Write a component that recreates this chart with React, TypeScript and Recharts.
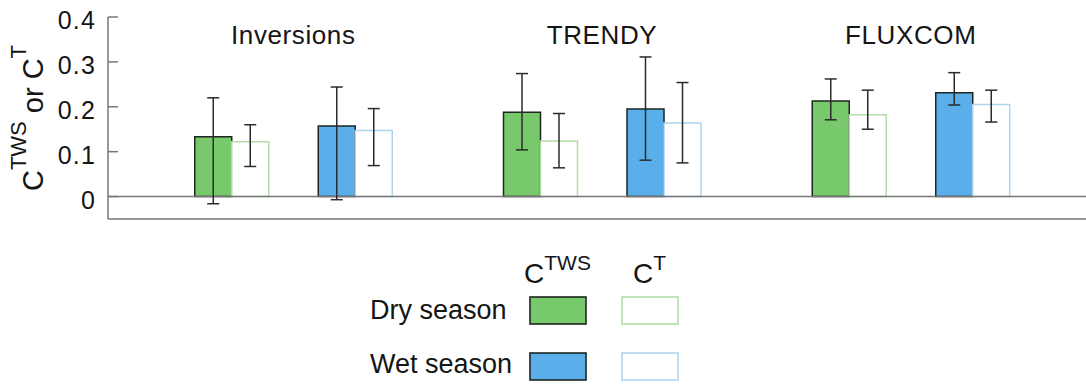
import {
  BarChart,
  Bar,
  XAxis,
  YAxis,
  Cell,
  ErrorBar,
  ReferenceLine,
  ReferenceDot,
} from "recharts";

// one slot per season pair; groups are separated by an extra half slot
const SLOTS = [1, 2, 3.5, 4.5, 6, 7];
const SEASONS = ["dry", "wet", "dry", "wet", "dry", "wet"];
const GROUPS = ["Inversions", "TRENDY", "FLUXCOM"];

const TWS_VALUES = [0.133, 0.157, 0.188, 0.195, 0.213, 0.231];
const TWS_LOW = [-0.016, -0.007, 0.104, 0.081, 0.171, 0.204];
const TWS_HIGH = [0.22, 0.244, 0.274, 0.311, 0.262, 0.276];

const T_VALUES = [0.122, 0.147, 0.124, 0.164, 0.182, 0.205];
const T_LOW = [0.067, 0.069, 0.064, 0.075, 0.15, 0.166];
const T_HIGH = [0.16, 0.196, 0.185, 0.254, 0.237, 0.237];

const Y_TICKS = [0, 0.1, 0.2, 0.3, 0.4];
const Y_MIN = -0.05;
const Y_MAX = 0.4;

const FILL: Record<string, string> = { dry: "#78c96b", wet: "#5aafea" };
const OUTLINE: Record<string, string> = { dry: "#b2dca8", wet: "#aed5ee" };
const DARK = "#1d2621";
const AXIS = "#777";
const FONT = "'Liberation Sans', Arial, sans-serif";

const data = SLOTS.map((slot, i) => ({
  slot,
  season: SEASONS[i],
  tws: TWS_VALUES[i],
  twsErr: [TWS_VALUES[i] - TWS_LOW[i], TWS_HIGH[i] - TWS_VALUES[i]],
  t: T_VALUES[i],
  tErr: [T_VALUES[i] - T_LOW[i], T_HIGH[i] - T_VALUES[i]],
}));

const groupCenters = GROUPS.map((name, g) => ({
  name,
  x: (SLOTS[g * 2] + SLOTS[g * 2 + 1]) / 2,
}));

const TICK_GAP = 12;

const fmtTick = (v: number) => (v === 0 ? "0" : v.toFixed(1));

const YTick = ({ x, y, payload }: any) => (
  <g>
    <text
      x={x}
      y={y}
      dy={12}
      textAnchor="end"
      fontSize={25}
      letterSpacing={1.2}
      fontFamily={FONT}
      fill="#151515"
    >
      {fmtTick(payload.value)}
    </text>
    <line x1={x + TICK_GAP} x2={x + TICK_GAP + 10} y1={y} y2={y} stroke={AXIS} strokeWidth={1.5} />
  </g>
);

const YLabel = () => (
  <text
    transform="translate(43,118) rotate(-90)"
    textAnchor="middle"
    fontFamily={FONT}
    fontSize={29}
    fill="#151515"
  >
    <tspan>C</tspan>
    <tspan dy={-17} fontSize={22}>TWS</tspan>
    <tspan dy={17} fontSize={29}> or C</tspan>
    <tspan dy={-17} fontSize={22}>T</tspan>
  </text>
);

const GroupLabel = ({ viewBox, value }: any) => (
  <text
    x={viewBox.x + viewBox.width / 2}
    y={viewBox.y + viewBox.height / 2}
    dy={9}
    textAnchor="middle"
    fontSize={26}
    letterSpacing={0.6}
    fontFamily={FONT}
    fill="#151515"
  >
    {value}
  </text>
);

function Legend() {
  return (
    <svg
      width={1086}
      height={385}
      style={{ position: "absolute", left: 0, top: 0, pointerEvents: "none" }}
      fontFamily={FONT}
      fill="#151515"
    >
      <text x={524} y={283} fontSize={28}>
        <tspan>C</tspan>
        <tspan dy={-13} fontSize={21}>TWS</tspan>
      </text>
      <text x={633} y={283} fontSize={28}>
        <tspan>C</tspan>
        <tspan dy={-13} fontSize={21}>T</tspan>
      </text>
      <text x={370} y={319} fontSize={27}>Dry season</text>
      <text x={370} y={373} fontSize={27}>Wet season</text>
      <rect x={530} y={297} width={56} height={27} fill={FILL.dry} stroke={DARK} strokeWidth={1.6} />
      <rect x={622} y={297} width={56} height={27} fill="#fff" stroke={OUTLINE.dry} strokeWidth={1.6} />
      <rect x={530} y={353} width={56} height={27} fill={FILL.wet} stroke={DARK} strokeWidth={1.6} />
      <rect x={622} y={353} width={56} height={27} fill="#fff" stroke={OUTLINE.wet} strokeWidth={1.6} />
    </svg>
  );
}

export default function App() {
  return (
    <div style={{ position: "relative", width: 1086, height: 385, overflow: "hidden", background: "#fff" }}>
      <style>{`body{margin:0}`}</style>
      <BarChart
        width={1100}
        height={222}
        data={data}
        margin={{ top: 17, right: 4, bottom: 3, left: 0 }}
        barGap={0}
      >
        <XAxis
          type="number"
          dataKey="slot"
          domain={[0, 8]}
          allowDataOverflow
          hide
        />
        <YAxis
          type="number"
          domain={[Y_MIN, Y_MAX]}
          ticks={Y_TICKS}
          allowDataOverflow
          width={108}
          tickSize={0}
          tickMargin={TICK_GAP}
          tickLine={false}
          tick={<YTick />}
          axisLine={{ stroke: AXIS, strokeWidth: 1.5 }}
          label={<YLabel />}
        />
        <ReferenceLine y={Y_MIN} stroke={AXIS} strokeWidth={1.5} />
        <ReferenceLine y={0} stroke={AXIS} strokeWidth={1.5} />
        <Bar dataKey="tws" barSize={37} stroke={DARK} strokeWidth={1.5} isAnimationActive={false}>
          {data.map((d) => (
            <Cell key={`tws-${d.slot}`} fill={FILL[d.season]} />
          ))}
          <ErrorBar dataKey="twsErr" direction="y" width={6} stroke="#2b2b2b" strokeWidth={1.5} />
        </Bar>
        <Bar dataKey="t" barSize={37} fill="#fff" strokeWidth={1.5} isAnimationActive={false}>
          {data.map((d) => (
            <Cell key={`t-${d.slot}`} stroke={OUTLINE[d.season]} />
          ))}
          <ErrorBar dataKey="tErr" direction="y" width={6} stroke="#2b2b2b" strokeWidth={1.5} />
        </Bar>
        {groupCenters.map((g) => (
          <ReferenceDot
            key={g.name}
            x={g.x}
            y={0.36}
            r={0}
            fill="none"
            stroke="none"
            label={<GroupLabel value={g.name} />}
          />
        ))}
      </BarChart>
      <Legend />
    </div>
  );
}
